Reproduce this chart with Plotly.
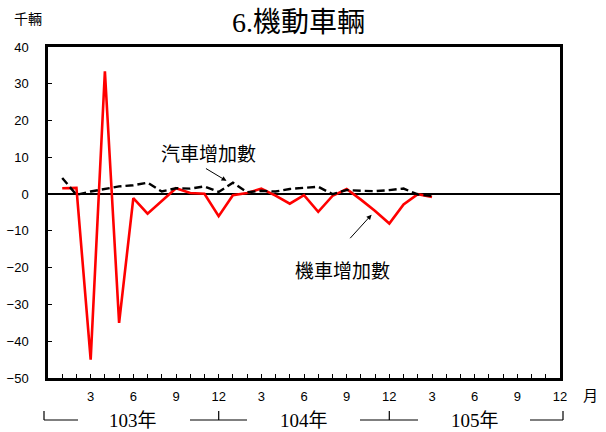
import plotly.graph_objects as go

# months 1..27 (103年1月 ~ 105年3月)
months = list(range(1, 28))
motorcycle = [1.6, 1.7, -45, 33.4, -35, -1.1, -5.3, -1.9, 1.6, 0.3, 0.1, -6.0,
              -0.3, 0.3, 1.5, -0.4, -2.6, -0.3, -4.8, -0.5, 1.4, -1.5, -4.6, -8.0,
              -2.8, 0.0, -0.8]
car = [4.4, -0.2, 0.7, 1.4, 2.1, 2.4, 3.1, 0.7, 1.6, 1.5, 2.1, 0.6,
       3.1, 0.5, 0.9, 0.7, 1.4, 1.7, 2.0, 0.0, 1.1, 0.9, 0.8, 1.1,
       1.5, -0.1, -0.5]

tick_months = list(range(1, 37))
tick_text = [str((m - 1) % 12 + 1) if m % 3 == 0 else "" for m in tick_months]
year_labels = ["103年", "104年", "105年"]
year_centers = [6, 18, 30]

W, H = 606, 432
L, R, T, B = 48, 46, 47, 54
PW, PH = W - L - R, H - T - B

def pxx(x):
    return (x - L) / PW

def pxy(y):
    return (H - B - y) / PH

fig = go.Figure()
fig.add_trace(go.Scatter(x=months, y=motorcycle, mode="lines",
                         line=dict(color="#ff0000", width=2.6), name="機車增加數"))
fig.add_trace(go.Scatter(x=months, y=car, mode="lines",
                         line=dict(color="black", width=2.4, dash="8px,4px"), name="汽車增加數"))

serif_cjk = "Liberation Serif, Noto Sans CJK TC"
cjk = "Noto Sans CJK TC"

def txt(text, x, y, xref, yref, family, size):
    return dict(text=text, x=x, y=y, xref=xref, yref=yref, showarrow=False,
                xanchor="center", yanchor="middle",
                font=dict(family=family, size=size, color="black"))

annotations = [
    txt("6.機動車輛", 0.49, pxy(22), "paper", "paper", serif_cjk, 28),
    txt("千輛", pxx(28), pxy(18), "paper", "paper", cjk, 14),
    txt("月", pxx(590), pxy(394), "paper", "paper", cjk, 15),
    txt("汽車增加數", 11.3, 11.3, "x", "y", cjk, 19),
    txt("機車增加數", 20.7, -20.5, "x", "y", cjk, 19),
    dict(text="", x=12.55, y=3.6, ax=11.0, ay=7.2, xref="x", yref="y", axref="x", ayref="y",
         showarrow=True, arrowhead=2, arrowsize=1, arrowwidth=1, arrowcolor="black"),
    dict(text="", x=22.75, y=-5.6, ax=21.15, ay=-12.4, xref="x", yref="y", axref="x", ayref="y",
         showarrow=True, arrowhead=2, arrowsize=1, arrowwidth=1, arrowcolor="black"),
]
for lab, c in zip(year_labels, year_centers):
    annotations.append(txt(lab, c, pxy(420), "x", "paper", serif_cjk, 19))

shapes = []
segs = [((44, 420), (78, 420)), ((44, 411), (44, 420)),
        ((190, 420), (247, 420)), ((218.7, 411), (218.7, 420)),
        ((360, 420), (418, 420)), ((389.3, 411), (389.3, 420)),
        ((530, 420), (563, 420)), ((563, 411), (563, 420))]
for (x0, y0), (x1, y1) in segs:
    shapes.append(dict(type="line", xref="paper", yref="paper",
                       x0=pxx(x0), y0=pxy(y0), x1=pxx(x1), y1=pxy(y1),
                       line=dict(color="black", width=1.2)))

fig.update_layout(
    width=W, height=H, margin=dict(l=L, r=R, t=T, b=B, pad=0, autoexpand=False),
    paper_bgcolor="white", plot_bgcolor="white", showlegend=False,
    annotations=annotations, shapes=shapes,
    xaxis=dict(range=[0, 36], tickmode="array", tickvals=tick_months, ticktext=tick_text,
               ticks="inside", ticklen=4, tickwidth=1.3, tickcolor="black",
               showline=True, linecolor="black", linewidth=2.5, mirror=True,
               showgrid=False, zeroline=False, ticklabelstandoff=5, automargin=False,
               tickfont=dict(family="Liberation Sans, Arial", size=13, color="black")),
    yaxis=dict(range=[-50, 40], dtick=10, tick0=0,
               ticks="inside", ticklen=4, tickwidth=1.3, tickcolor="black",
               showline=True, linecolor="black", linewidth=2.5, mirror=True,
               showgrid=False, zeroline=True, zerolinecolor="black", zerolinewidth=1.5,
               ticklabelstandoff=14, automargin=False,
               tickfont=dict(family="Liberation Sans, Arial", size=13, color="black")),
)

fig.write_html("out.html", config={"displayModeBar": False},
               post_script="document.body.style.margin='0px';")
